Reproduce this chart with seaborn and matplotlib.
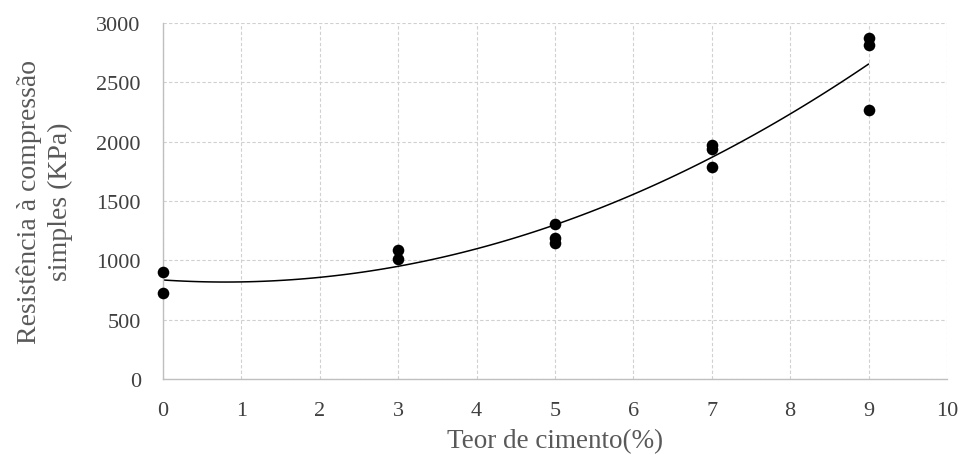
import numpy as np
import pandas as pd
import matplotlib
matplotlib.use("Agg")
import matplotlib.pyplot as plt
import seaborn as sns

cement = [0, 0, 3, 3, 5, 5, 5, 7, 7, 7, 9, 9, 9]
strength = [900, 725, 1085, 1015, 1310, 1190, 1150, 1975, 1940, 1790, 2875, 2820, 2265]
x_ticks = list(range(0, 11))
y_ticks = [0, 500, 1000, 1500, 2000, 2500, 3000]

df = pd.DataFrame({"cimento": cement, "resistencia": strength})

sns.set_theme(style="white")
plt.rcParams["font.family"] = ["Liberation Serif", "DejaVu Serif"]

fig = plt.figure(figsize=(9.61, 4.56), dpi=100)
ax = fig.add_axes([0.1696, 0.1667, 0.8158, 0.7803])

sns.regplot(data=df, x="cimento", y="resistencia", order=2, ci=None,
            scatter=False, ax=ax, truncate=True,
            line_kws={"color": "black", "lw": 1.1})
sns.scatterplot(data=df, x="cimento", y="resistencia", ax=ax, color="black",
                s=70, edgecolor="black", linewidth=0, zorder=5, clip_on=False)

ax.set_xlim(0, 10)
ax.set_ylim(0, 3000)
ax.set_xticks(x_ticks)
ax.set_yticks(y_ticks)
ax.grid(True, color="#d0d0d0", linestyle=(0, (3, 2)), linewidth=0.8)
ax.set_axisbelow(True)
for s in ["top", "right"]:
    ax.spines[s].set_visible(False)
for s in ["left", "bottom"]:
    ax.spines[s].set_color("#bfbfbf")
    ax.spines[s].set_linewidth(1.0)
ax.tick_params(axis="both", which="both", direction="out", length=5, width=1,
               color="#bfbfbf", labelsize=16, labelcolor="#404040")
ax.tick_params(axis="x", pad=11)
ax.tick_params(axis="y", pad=11)
ax.set_xlabel("Teor de cimento(%)", fontsize=19.5, color="#595959", labelpad=6)
ax.set_ylabel("Resistência à compressão\nsimples (KPa)", fontsize=20,
              color="#595959", labelpad=17, linespacing=1.3)

fig.savefig("out.png", dpi=100)
